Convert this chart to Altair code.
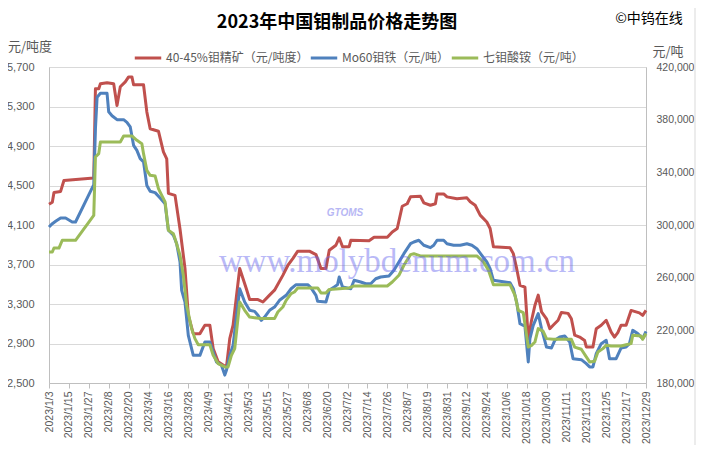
import altair as alt
import pandas as pd

# ---------------- data ----------------
series_names = ["40-45%钼精矿（元/吨度）", "Mo60钼铁（元/吨）", "七钼酸铵（元/吨）"]
series_colors = ["#C0504D", "#4F81BD", "#9BBB59"]

red_dates = ["2023/1/3","2023/1/5","2023/1/6","2023/1/10","2023/1/12","2023/1/30","2023/1/31",
             "2023/2/2","2023/2/3","2023/2/7","2023/2/11","2023/2/13","2023/2/15","2023/2/18","2023/2/20","2023/2/22","2023/2/23",
             "2023/3/1","2023/3/3","2023/3/5","2023/3/10","2023/3/13","2023/3/15","2023/3/16","2023/3/20","2023/3/23","2023/3/26","2023/3/28","2023/3/31",
             "2023/4/4","2023/4/7","2023/4/10","2023/4/12","2023/4/15","2023/4/20","2023/4/22","2023/4/24","2023/4/28",
             "2023/5/2","2023/5/4","2023/5/9","2023/5/12","2023/5/16","2023/5/19","2023/5/24","2023/5/27","2023/5/30",
             "2023/6/2","2023/6/9","2023/6/13","2023/6/16","2023/6/19","2023/6/21","2023/6/25","2023/6/27","2023/6/29",
             "2023/7/3","2023/7/4","2023/7/15","2023/7/18","2023/7/26","2023/7/29",
             "2023/8/1","2023/8/4","2023/8/7","2023/8/9","2023/8/15","2023/8/17","2023/8/21","2023/8/24","2023/8/25","2023/8/29","2023/8/31",
             "2023/9/6","2023/9/12","2023/9/14","2023/9/17","2023/9/20","2023/9/24","2023/9/26","2023/9/28",
             "2023/10/8","2023/10/10","2023/10/12","2023/10/14","2023/10/17","2023/10/19","2023/10/21","2023/10/23","2023/10/25","2023/10/27","2023/10/30",
             "2023/11/1","2023/11/3","2023/11/6","2023/11/8","2023/11/12","2023/11/14","2023/11/16","2023/11/19","2023/11/22","2023/11/23","2023/11/27","2023/11/29",
             "2023/12/2","2023/12/5","2023/12/8","2023/12/10","2023/12/12","2023/12/14","2023/12/17","2023/12/20","2023/12/22","2023/12/25","2023/12/27","2023/12/29"]
red_values = [4310,4330,4430,4440,4550,4575,5480,
              5480,5530,5540,5530,5310,5500,5550,5600,5600,5520,
              5520,5245,5075,5050,4840,4770,4420,4400,4060,3660,3185,3000,
              3000,3085,3085,2850,2715,2660,2950,3085,3660,
              3455,3345,3345,3320,3390,3440,3590,3690,3760,
              3835,3835,3800,3660,3660,3845,3895,3970,3880,
              3880,3945,3940,3975,3975,4030,
              4065,4290,4315,4385,4390,4325,4300,4315,4415,4415,4385,
              4365,4375,4335,4300,4200,4130,4065,3880,
              3870,3810,3660,3490,3470,2950,3135,3285,3390,3220,3150,
              3050,3085,3135,3215,3205,3150,2985,2965,2930,2865,2865,3050,
              3085,3135,3015,2965,3010,3085,3085,3235,3225,3210,3185,3235]

blue_dates = ["2023/1/3","2023/1/5","2023/1/7","2023/1/10","2023/1/13","2023/1/17","2023/1/19","2023/1/30","2023/1/31",
              "2023/2/1","2023/2/2","2023/2/3","2023/2/7","2023/2/8","2023/2/10","2023/2/13","2023/2/17","2023/2/19","2023/2/21","2023/2/23","2023/2/25","2023/2/27",
              "2023/3/1","2023/3/3","2023/3/5","2023/3/8","2023/3/11","2023/3/14","2023/3/16","2023/3/19","2023/3/21","2023/3/23","2023/3/24","2023/3/26","2023/3/28","2023/3/31",
              "2023/4/4","2023/4/7","2023/4/10","2023/4/12","2023/4/14","2023/4/17","2023/4/19","2023/4/20","2023/4/22","2023/4/24","2023/4/28",
              "2023/5/1","2023/5/4","2023/5/7","2023/5/9","2023/5/11","2023/5/13","2023/5/16","2023/5/19","2023/5/22","2023/5/26","2023/5/29",
              "2023/6/1","2023/6/8","2023/6/10","2023/6/13","2023/6/14","2023/6/19","2023/6/21","2023/6/24","2023/6/26","2023/6/27","2023/6/29",
              "2023/7/4","2023/7/6","2023/7/10","2023/7/13","2023/7/16","2023/7/19","2023/7/22","2023/7/27","2023/7/30",
              "2023/8/2","2023/8/5","2023/8/9","2023/8/11","2023/8/14","2023/8/17","2023/8/21","2023/8/23","2023/8/25","2023/8/29","2023/8/31",
              "2023/9/4","2023/9/8","2023/9/12","2023/9/15","2023/9/18","2023/9/21","2023/9/24","2023/9/26","2023/9/28",
              "2023/10/8","2023/10/10","2023/10/12","2023/10/14","2023/10/16","2023/10/17","2023/10/19","2023/10/20","2023/10/22","2023/10/25","2023/10/27","2023/10/30",
              "2023/11/2","2023/11/4","2023/11/7","2023/11/10","2023/11/13","2023/11/15","2023/11/20","2023/11/23","2023/11/25","2023/11/27","2023/11/29",
              "2023/12/2","2023/12/5","2023/12/7","2023/12/11","2023/12/14","2023/12/17","2023/12/19","2023/12/21","2023/12/24","2023/12/27","2023/12/29"]
blue_values = [298500,301000,302800,305300,305300,302300,302300,330600,373000,
               397000,398500,400000,400000,386000,383000,380000,380000,378000,374500,360500,356700,350400,
               348000,330000,325600,324600,320500,316200,296000,292200,285800,271900,250400,241500,216200,201000,
               201000,211100,211100,203600,196000,193400,186000,189600,201000,208600,251600,
               241500,235200,234400,231400,227600,230100,235200,237700,242800,246600,251600,
               254700,254700,252200,246600,242000,241500,250400,252900,254700,260500,252900,
               251600,258000,256700,255400,255400,259200,260500,261300,265600,
               271900,278200,285800,287100,288400,284600,282800,284600,288400,288400,285800,
               284600,284600,285800,284600,282000,277000,271900,266800,258000,
               256200,251600,241500,225000,223800,223000,196000,213700,223800,232700,221300,207300,
               206600,212400,215000,215700,211100,198500,197700,194700,192200,192200,202300,
               209900,212400,198500,198500,206600,207300,209900,220000,217500,213700,219200]

green_dates = ["2023/1/3","2023/1/5","2023/1/6","2023/1/9","2023/1/11","2023/1/19","2023/1/30","2023/1/31",
               "2023/2/2","2023/2/3","2023/2/15","2023/2/17","2023/2/22","2023/2/25","2023/2/28",
               "2023/3/1","2023/3/3","2023/3/5","2023/3/8","2023/3/10","2023/3/12","2023/3/14","2023/3/16","2023/3/19","2023/3/20","2023/3/23","2023/3/25","2023/3/27","2023/3/30",
               "2023/4/1","2023/4/3","2023/4/10","2023/4/12","2023/4/15","2023/4/19","2023/4/21","2023/4/23","2023/4/25","2023/4/28",
               "2023/5/1","2023/5/4","2023/5/11","2023/5/19","2023/5/21","2023/5/24","2023/5/26","2023/5/29","2023/5/31",
               "2023/6/2","2023/6/14","2023/6/16","2023/6/19","2023/6/21",
               "2023/7/3","2023/7/6","2023/7/26","2023/7/29",
               "2023/8/2","2023/8/5","2023/8/9","2023/8/11","2023/8/15",
               "2023/9/18","2023/9/22","2023/9/25","2023/9/28",
               "2023/10/8","2023/10/11","2023/10/13","2023/10/16","2023/10/19","2023/10/21","2023/10/23","2023/10/25","2023/10/28","2023/10/30",
               "2023/11/3","2023/11/14","2023/11/16","2023/11/20","2023/11/23","2023/11/25","2023/11/28","2023/11/30",
               "2023/12/3","2023/12/5","2023/12/8","2023/12/14","2023/12/17","2023/12/20","2023/12/21","2023/12/26","2023/12/27","2023/12/29"]
green_values = [279500,279500,282500,282500,288400,288400,307300,351600,
                354200,363000,363000,367600,367600,364300,361800,
                354200,341500,337700,337200,327600,322500,317500,296000,293400,289600,277000,261800,239000,221300,
                213700,209100,209100,201000,194700,192200,192200,201000,206100,241500,
                235200,230100,228900,228900,233900,237700,242800,247900,249100,
                252200,252200,248400,248400,251100,
                252200,253700,253700,256700,
                261800,269400,277500,278200,276500,
                276500,271900,265600,254700,
                254700,246600,235200,233400,207300,208600,211100,221300,219200,213700,
                213200,213200,207300,205600,199800,196000,196500,203500,
                206100,208600,208100,208100,209100,209900,216200,215700,213200,217500]

x_tick_labels = ["2023/1/3","2023/1/15","2023/1/27","2023/2/8","2023/2/20","2023/3/4","2023/3/16","2023/3/28",
                 "2023/4/9","2023/4/21","2023/5/3","2023/5/15","2023/5/27","2023/6/8","2023/6/20","2023/7/2",
                 "2023/7/14","2023/7/26","2023/8/7","2023/8/19","2023/8/31","2023/9/12","2023/9/24","2023/10/6",
                 "2023/10/18","2023/10/30","2023/11/11","2023/11/23","2023/12/5","2023/12/17","2023/12/29"]
left_ticks = [2500, 2900, 3300, 3700, 4100, 4500, 4900, 5300, 5700]
right_ticks = [180000, 220000, 260000, 300000, 340000, 380000, 420000]

title_text = "2023年中国钼制品价格走势图"
copyright_text = "©中钨在线"
left_unit = "元/吨度"
right_unit = "元/吨"
watermark = "www.molybdenum.com.cn"

# ---------------- build ----------------
def dt(s):
    y, m, d = [int(v) for v in s.split("/")]
    return alt.DateTime(year=y, month=m, date=d)

df_red = pd.DataFrame({"date": red_dates, "value": red_values, "series": series_names[0]})
df_bg = pd.concat([
    pd.DataFrame({"date": blue_dates, "value": blue_values, "series": series_names[1]}),
    pd.DataFrame({"date": green_dates, "value": green_values, "series": series_names[2]}),
], ignore_index=True)

W, H = 597, 316
CJK = "Noto Sans CJK SC"
NUM = "Liberation Sans"
GREY = "#595959"

x_enc = alt.X("date:T",
              scale=alt.Scale(domain=[dt(red_dates[0]), dt(red_dates[-1])]),
              axis=alt.Axis(values=[dt(s) for s in x_tick_labels], format="%Y/%-m/%-d",
                            labelAngle=-90, labelFont=NUM, labelFontSize=10.5, labelColor=GREY,
                            labelPadding=3, tickSize=5, tickColor="#bfbfbf", domainColor="#bfbfbf",
                            grid=False, title=None, labelOverlap=False, labelFlush=False))

color_enc = alt.Color("series:N",
                      scale=alt.Scale(domain=series_names, range=series_colors),
                      legend=alt.Legend(orient="none", legendX=84, legendY=-24, direction="horizontal",
                                        title=None, symbolType="stroke", symbolStrokeWidth=3,
                                        symbolSize=700, labelFont=CJK, labelFontSize=12,
                                        labelColor=GREY, columnPadding=-6, labelOffset=3,
                                        labelLimit=300))

red = alt.Chart(df_red).mark_line(strokeWidth=3, strokeJoin="round").encode(
    x=x_enc,
    y=alt.Y("value:Q",
            scale=alt.Scale(domain=[2500, 5700], nice=False, zero=False),
            axis=alt.Axis(values=left_ticks, format=",.0f", title=None, grid=True, gridColor="#d9d9d9",
                          domainColor="#bfbfbf", ticks=False, labelPadding=15, labelFont=NUM,
                          labelFontSize=11, labelColor=GREY)),
    color=color_enc,
)

bg = alt.Chart(df_bg).mark_line(strokeWidth=3, strokeJoin="round").encode(
    x=x_enc,
    y=alt.Y("value:Q",
            scale=alt.Scale(domain=[180000, 420000], nice=False, zero=False),
            axis=alt.Axis(values=right_ticks, format=",.0f", title=None, grid=False, orient="right",
                          domainColor="#bfbfbf", ticks=False, labelPadding=10, labelFont=NUM,
                          labelFontSize=10.5, labelColor=GREY)),
    color=color_enc,
)

def label(text, x, y, size, color="#000000", font=CJK, weight="normal", align="center",
          opacity=1.0, style="normal"):
    return alt.Chart(pd.DataFrame({"t": [text]})).mark_text(
        font=font, fontSize=size, fontWeight=weight, color=color, align=align,
        baseline="middle", opacity=opacity, fontStyle=style
    ).encode(text="t:N", x=alt.value(x), y=alt.value(y))

border = alt.Chart(pd.DataFrame({"a": [0]})).mark_rect(
    fillOpacity=0, stroke="#d9d9d9", strokeWidth=1
).encode(x=alt.value(-48), x2=alt.value(646), y=alt.value(-66), y2=alt.value(384))

texts = alt.layer(
    label(title_text, 288, -44, 18, weight="bold"),
    label(copyright_text, 600, -48, 14),
    label(left_unit, -19, -20, 13, color=GREY),
    label(right_unit, 619, -15, 13, color=GREY),
    label(watermark, 348, 195, 33, color="#6666ee", font="Liberation Serif", opacity=0.45),
    label("GTOMS", 296, 146, 10, color="#8888ee", font="Liberation Sans", weight="bold",
          opacity=0.6, style="italic"),
)

chart = alt.layer(red, bg, border, texts).resolve_scale(y="independent").properties(
    width=W, height=H,
    padding={"left": 41, "top": 59, "right": 50, "bottom": 62},
    autosize=alt.AutoSizeParams(type="none"),
).configure_view(stroke=None).configure(background="white")

chart.save("out.html", embed_options={"renderer": "svg", "actions": False})
